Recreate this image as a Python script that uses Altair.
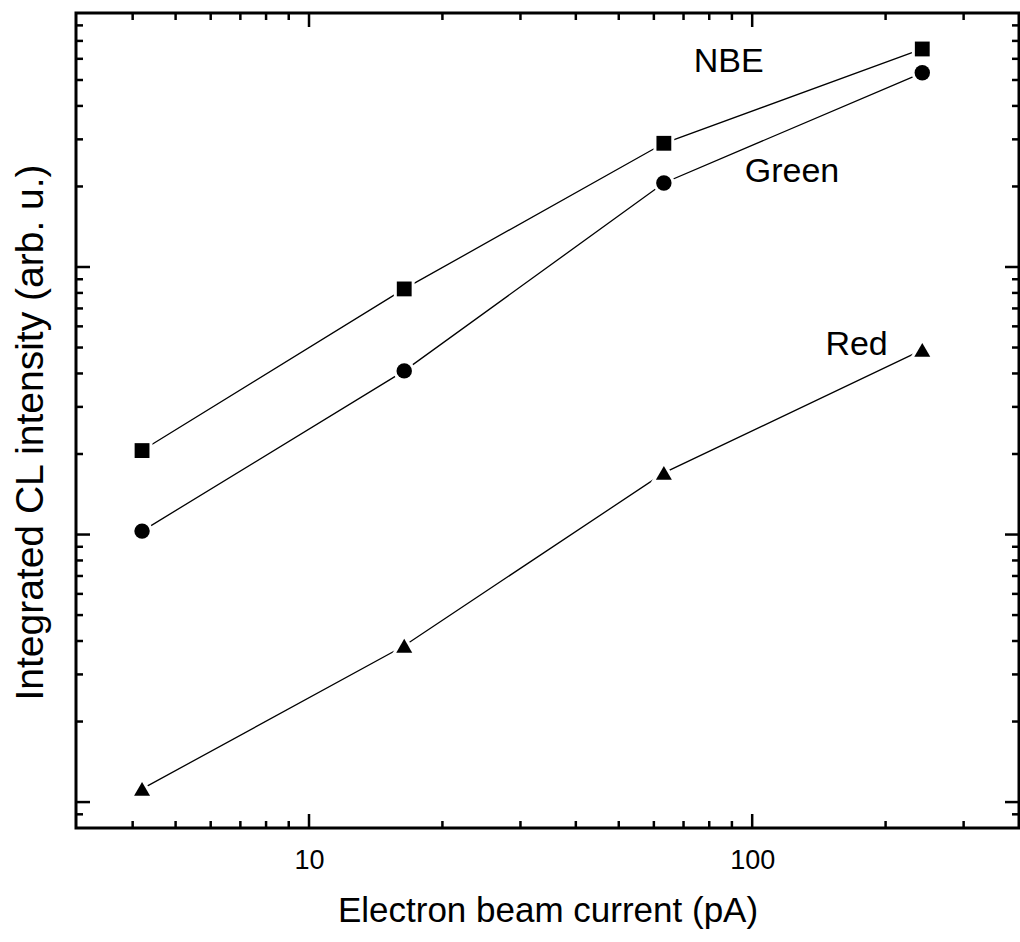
import altair as alt
import pandas as pd

# Data
current = [4.2, 16.4, 63.2, 242]
nbe = [20.6, 82.8, 290, 653]
green = [10.3, 40.9, 206, 532]
red = [1.12, 3.84, 17.0, 49.0]

series_names = ["NBE", "Green", "Red"]
label_x = [88.5, 123, 172]
label_y = [584, 226, 51]

x_major = [10, 100]
x_minor = [4, 5, 6, 7, 8, 9, 20, 30, 40, 50, 60, 70, 80, 90, 200, 300]
y_major = [1, 10, 100]
y_minor = [0.9, 2, 3, 4, 5, 6, 7, 8, 9, 20, 30, 40, 50, 60, 70, 80, 90,
           200, 300, 400, 500, 600, 700, 800]

W, H = 943, 815
FONT = "Liberation Sans"

rows = []
for name, vals in zip(series_names, [nbe, green, red]):
    for c, v in zip(current, vals):
        rows.append({"current": c, "intensity": v, "series": name})
df = pd.DataFrame(rows)
labels = pd.DataFrame({"x": label_x, "y": label_y, "text": series_names})

xscale = alt.Scale(type="log", domain=[2.98, 400], nice=False)
yscale = alt.Scale(type="log", domain=[0.8, 890], nice=False)

base = alt.Chart(df)

lines = base.mark_line(color="black", strokeWidth=1.3).encode(
    x=alt.X("current:Q", scale=xscale,
            axis=alt.Axis(values=x_major, format="d", ticks=False, domain=False,
                          grid=False, labelFont=FONT, labelFontSize=27,
                          labelColor="black", labelPadding=19,
                          title="Electron beam current (pA)", titleFont=FONT,
                          titleFontSize=35, titleFontWeight="normal",
                          titleColor="black", titlePadding=20)),
    y=alt.Y("intensity:Q", scale=yscale,
            axis=alt.Axis(labels=False, ticks=False, domain=False, grid=False,
                          title="Integrated CL intensity (arb. u.)",
                          titleFont=FONT, titleFontSize=39,
                          titleFontWeight="normal", titleColor="black",
                          titlePadding=26, titleY=419)),
    detail="series:N",
)

shape_enc = alt.Shape("series:N",
                      scale=alt.Scale(domain=series_names,
                                      range=["square", "circle", "triangle-up"]),
                      legend=None)
size_enc = alt.Size("series:N",
                    scale=alt.Scale(domain=series_names, range=[220, 256, 361]),
                    legend=None)

halo = base.mark_point(filled=True, fill="white", stroke="white",
                       strokeWidth=6, opacity=1).encode(
    x=alt.X("current:Q", scale=xscale),
    y=alt.Y("intensity:Q", scale=yscale),
    shape=shape_enc,
    size=size_enc,
)

points = base.mark_point(filled=True, fill="black", opacity=1,
                         strokeWidth=0).encode(
    x=alt.X("current:Q", scale=xscale),
    y=alt.Y("intensity:Q", scale=yscale),
    shape=shape_enc,
    size=size_enc,
)

texts = alt.Chart(labels).mark_text(font=FONT, fontSize=34, color="black",
                                    align="center", baseline="middle").encode(
    x=alt.X("x:Q", scale=xscale),
    y=alt.Y("y:Q", scale=yscale),
    text="text:N",
)

def xticks(vals, length):
    d = pd.DataFrame({"v": vals})
    bottom = alt.Chart(d).mark_rule(color="black", strokeWidth=2.5).encode(
        x=alt.X("v:Q", scale=xscale), y=alt.value(H), y2=alt.value(H - length))
    top = alt.Chart(d).mark_rule(color="black", strokeWidth=2.5).encode(
        x=alt.X("v:Q", scale=xscale), y=alt.value(0), y2=alt.value(length))
    return [bottom, top]

def yticks(vals, length):
    d = pd.DataFrame({"v": vals})
    left = alt.Chart(d).mark_rule(color="black", strokeWidth=2.5).encode(
        y=alt.Y("v:Q", scale=yscale), x=alt.value(0), x2=alt.value(length))
    right = alt.Chart(d).mark_rule(color="black", strokeWidth=2.5).encode(
        y=alt.Y("v:Q", scale=yscale), x=alt.value(W), x2=alt.value(W - length))
    return [left, right]

tick_layers = xticks(x_major, 14) + xticks(x_minor, 7) + yticks(y_major, 14) + yticks(y_minor, 7)

chart = alt.layer(lines, halo, points, texts, *tick_layers).properties(
    width=W, height=H,
    autosize=alt.AutoSizeParams(type="none"),
    padding={"left": 76, "top": 13, "right": 1, "bottom": 114},
    background="white",
).configure_view(stroke="black", strokeWidth=3)

chart.save("out.html", embed_options={"renderer": "svg", "actions": False})
